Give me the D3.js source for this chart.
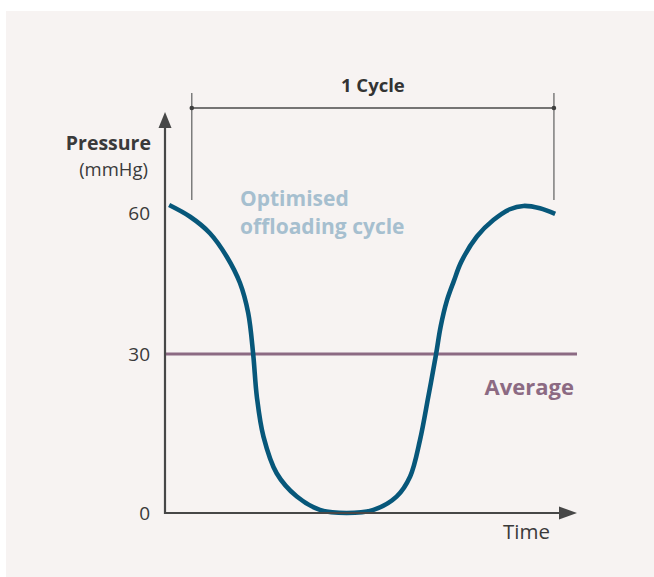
<!DOCTYPE html>
<html>
<head>
<meta charset="utf-8">
<script src="https://cdn.jsdelivr.net/npm/d3@7"></script>
<style>
  html, body { margin: 0; padding: 0; background: #fff; }
  svg { display: block; }
  text { font-family: "Open Sans", "Noto Sans", sans-serif; }
</style>
</head>
<body>
<div id="chart-area"></div>
<script>
const WIDTH = 654;
const HEIGHT = 577;

// data: one pressure cycle (time in arbitrary units, pressure in mmHg)
const timeSteps = [1.0, 6.1, 10.9, 15.0, 18.2, 20.2, 21.4, 22.3, 23.9, 27.1, 32.0, 37.6, 44.1,
  50.6, 56.2, 59.5, 61.9, 63.9, 65.8, 66.9, 68.4, 70.1, 71.9, 75.7, 79.7, 83.7, 87.0, 91.0, 94.7];
const pressureValues = [61.7, 59.2, 55.7, 50.7, 45.1, 38.7, 30.0, 21.9, 14.4, 7.5, 3.1, 0.6, 0.0,
  0.6, 3.1, 6.9, 13.8, 21.9, 30.0, 35.8, 41.3, 45.5, 49.6, 55.0, 58.5, 60.8, 61.5, 61.0, 59.8];
const tickValues = [0, 30, 60];
const averagePressure = 30;
const cycleStart = 6.5;
const cycleEnd = 94.4;

const svg = d3
  .select("#chart-area")
  .append("svg")
  .attr("width", WIDTH)
  .attr("height", HEIGHT);

// background panel
svg.append("rect")
  .attr("x", 6)
  .attr("y", 11)
  .attr("width", WIDTH - 6)
  .attr("height", HEIGHT - 11)
  .attr("fill", "#f7f3f2");

// scales
const x = d3.scaleLinear().domain([0, 100]).range([165, 577]);
const y = d3.scaleLinear().domain([0, 30, 60]).range([513, 354, 213]);

const AXIS_COLOR = "#474747";
const TEXT_COLOR = "#3a3a3a";
const yTop = 112;

// y-axis tick labels
const yAxisCall = d3.axisLeft(y).tickValues(tickValues).tickSize(0).tickPadding(15);
const yAxis = svg.append("g")
  .attr("transform", `translate(${x(0)}, 0)`)
  .call(yAxisCall);
yAxis.select(".domain").remove();
yAxis.selectAll("text")
  .attr("font-family", "'Open Sans', 'Noto Sans', sans-serif")
  .attr("font-size", "19px")
  .attr("fill", TEXT_COLOR);

// average line
svg.append("line")
  .attr("x1", x(0))
  .attr("x2", x(100))
  .attr("y1", y(averagePressure))
  .attr("y2", y(averagePressure))
  .attr("stroke", "#8c6a83")
  .attr("stroke-width", 3.2);

// pressure curve
const line = d3.line()
  .x((d, i) => x(timeSteps[i]))
  .y((d) => y(d))
  .curve(d3.curveCatmullRom.alpha(0.5));

svg.append("path")
  .attr("d", line(pressureValues))
  .attr("fill", "none")
  .attr("stroke", "#07577a")
  .attr("stroke-width", 4.6);

// axis lines with arrows
svg.append("line")
  .attr("x1", x(0)).attr("x2", x(0))
  .attr("y1", y(0) + 1).attr("y2", yTop + 10)
  .attr("stroke", AXIS_COLOR).attr("stroke-width", 2.2);
svg.append("path")
  .attr("d", `M${x(0)},${yTop} L${x(0) - 6.5},${yTop + 16} L${x(0) + 6.5},${yTop + 16} Z`)
  .attr("fill", AXIS_COLOR);

svg.append("line")
  .attr("x1", x(0) - 1).attr("x2", x(100) - 10)
  .attr("y1", y(0)).attr("y2", y(0))
  .attr("stroke", AXIS_COLOR).attr("stroke-width", 2.2);
svg.append("path")
  .attr("d", `M${x(100)},${y(0)} L${x(100) - 18},${y(0) - 6.5} L${x(100) - 18},${y(0) + 6.5} Z`)
  .attr("fill", AXIS_COLOR);

// cycle bracket
const bracketY = 108;
const bracket = svg.append("g").attr("stroke", "#4a4a4a");
[cycleStart, cycleEnd].forEach((t) => {
  bracket.append("line")
    .attr("x1", x(t)).attr("x2", x(t))
    .attr("y1", 93).attr("y2", 200)
    .attr("stroke", "#6a6a6a")
    .attr("stroke-width", 1.3);
  svg.append("circle")
    .attr("cx", x(t)).attr("cy", bracketY)
    .attr("r", 2.3)
    .attr("fill", "#3f3f3f");
});
bracket.append("line")
  .attr("x1", x(cycleStart)).attr("x2", x(cycleEnd))
  .attr("y1", bracketY).attr("y2", bracketY)
  .attr("stroke-width", 1.4);

svg.append("text")
  .attr("x", (x(cycleStart) + x(cycleEnd)) / 2)
  .attr("y", 92)
  .attr("text-anchor", "middle")
  .attr("font-size", "18.5px")
  .attr("font-weight", "bold")
  .attr("fill", "#333")
  .text("1 Cycle");

// y-axis label
svg.append("text")
  .attr("x", 151)
  .attr("y", 150)
  .attr("text-anchor", "end")
  .attr("font-size", "19.5px")
  .attr("font-weight", "bold")
  .attr("fill", TEXT_COLOR)
  .text("Pressure");
svg.append("text")
  .attr("x", 148)
  .attr("y", 176)
  .attr("text-anchor", "end")
  .attr("font-size", "18.5px")
  .attr("fill", TEXT_COLOR)
  .text("(mmHg)");

// x-axis label
svg.append("text")
  .attr("x", 550)
  .attr("y", 539)
  .attr("text-anchor", "end")
  .attr("font-size", "20.5px")
  .attr("fill", TEXT_COLOR)
  .text("Time");

// series annotations
const seriesLabel = svg.append("text")
  .attr("font-size", "21px")
  .attr("font-weight", "bold")
  .attr("fill", "#a6bfcf");
seriesLabel.append("tspan").attr("x", 240).attr("y", 206).text("Optimised");
seriesLabel.append("tspan").attr("x", 240).attr("y", 234).text("offloading cycle");

svg.append("text")
  .attr("x", 574)
  .attr("y", 395)
  .attr("text-anchor", "end")
  .attr("font-size", "22px")
  .attr("font-weight", "bold")
  .attr("fill", "#8c6a83")
  .text("Average");
</script>
</body>
</html>
